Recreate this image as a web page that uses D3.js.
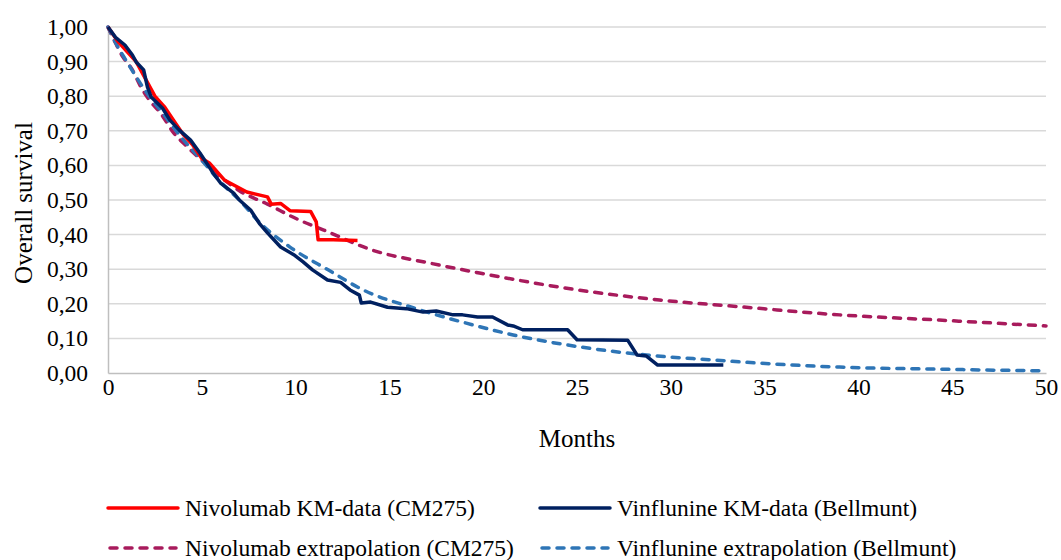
<!DOCTYPE html>
<html>
  <head>
    <meta charset="utf-8">
    <title>Overall survival</title>
    <script src="https://d3js.org/d3.v7.min.js"></script>
    <style>
      body { margin: 0; background: #fff; }
      svg text { fill: #000; }
    </style>
  </head>
  <body>
    <script>
      var width = 1061;
      var height = 560;
      var margin = {top: 27, right: 15, bottom: 187, left: 108};

      // Nivolumab KM-data (CM275)
      var nivoKmMonths = [0, 0.5, 1, 1.5, 2, 2.5, 3, 3.5, 4, 4.5, 5, 5.4, 6.2, 7.4, 8.1, 8.5, 8.7, 9.2, 9.7, 10.8, 11.1, 11.2, 12.0, 13.3];
      var nivoKmValues = [1, 0.96, 0.93, 0.9, 0.85, 0.8, 0.77, 0.73, 0.69, 0.66, 0.62, 0.607, 0.558, 0.523, 0.514, 0.509, 0.488, 0.49, 0.469, 0.467, 0.437, 0.385, 0.385, 0.383];

      // Vinflunine KM-data (Bellmunt)
      var vinfKmMonths = [0, 0.4, 0.9, 1.3, 1.5, 1.9, 2.1, 2.3, 2.9, 3.3, 3.8, 4.4, 4.9, 5.4, 5.6, 6.0, 6.7, 7.0, 7.6, 8.1, 8.5, 9.2, 9.9, 10.4, 10.9, 11.7, 12.4, 12.9, 13.4, 13.5, 14.0, 14.9, 15.9, 16.8, 17.5, 18.4, 18.9, 19.7, 20.5, 21.3, 21.6, 22.1, 24.5, 25.0, 27.7, 28.2, 28.7, 29.3, 32.8];
      var vinfKmValues = [1, 0.97, 0.948, 0.919, 0.899, 0.876, 0.827, 0.798, 0.766, 0.731, 0.702, 0.673, 0.636, 0.595, 0.578, 0.549, 0.52, 0.5, 0.471, 0.43, 0.405, 0.364, 0.342, 0.321, 0.298, 0.269, 0.262, 0.24, 0.225, 0.202, 0.205, 0.19, 0.186, 0.176, 0.179, 0.168, 0.168, 0.162, 0.162, 0.139, 0.136, 0.125, 0.125, 0.096, 0.095, 0.052, 0.049, 0.023, 0.023];

      // Nivolumab extrapolation (CM275)
      var nivoExMonths = [0, 0.4, 0.8, 1.3, 1.7, 2.2, 2.8, 3.5, 4.2, 5, 6, 7, 8.5, 10.2, 11.5, 14.1, 17.2, 19.8, 24.8, 29.4, 33.8, 39, 44.3, 50];
      var nivoExValues = [1, 0.954, 0.913, 0.876, 0.832, 0.789, 0.751, 0.694, 0.655, 0.615, 0.567, 0.527, 0.488, 0.442, 0.413, 0.355, 0.317, 0.289, 0.242, 0.211, 0.191, 0.168, 0.153, 0.136];

      // Vinflunine extrapolation (Bellmunt)
      var vinfExMonths = [0, 0.4, 1, 2, 3, 4, 5, 6, 7, 8.1, 9.7, 11.8, 13.6, 16.3, 19.1, 21.6, 25.2, 28.7, 32.2, 34.6, 39, 44.3, 50];
      var vinfExValues = [1, 0.955, 0.9, 0.815, 0.745, 0.675, 0.615, 0.552, 0.5, 0.434, 0.364, 0.296, 0.24, 0.188, 0.144, 0.11, 0.075, 0.052, 0.038, 0.029, 0.017, 0.011, 0.006];

      var xTicks = [0, 5, 10, 15, 20, 25, 30, 35, 40, 45, 50];
      var yTicks = [0, 0.1, 0.2, 0.3, 0.4, 0.5, 0.6, 0.7, 0.8, 0.9, 1.0];

      var series = [
        {name: "Nivolumab KM-data (CM275)", months: nivoKmMonths, values: nivoKmValues, color: "#ff0000", dash: null, curve: d3.curveLinear},
        {name: "Vinflunine KM-data (Bellmunt)", months: vinfKmMonths, values: vinfKmValues, color: "#002060", dash: null, curve: d3.curveLinear},
        {name: "Nivolumab extrapolation (CM275)", months: nivoExMonths, values: nivoExValues, color: "#a81b5c", dash: "7,8", curve: d3.curveMonotoneX},
        {name: "Vinflunine extrapolation (Bellmunt)", months: vinfExMonths, values: vinfExValues, color: "#2e75b6", dash: "7,8", curve: d3.curveMonotoneX}
      ];

      var serif = "'Liberation Serif', 'Times New Roman', Times, 'DejaVu Serif', serif";

      var innerW = width - margin.left - margin.right;
      var innerH = height - margin.top - margin.bottom;

      var x = d3.scaleLinear().domain([0, 50]).range([0, innerW]);
      var y = d3.scaleLinear().domain([0, 1]).range([innerH, 0]);

      var svg = d3.select("body").append("svg")
          .attr("width", width)
          .attr("height", height)
          .attr("font-family", serif);

      var g = svg.append("g")
          .attr("transform", "translate(" + margin.left + "," + margin.top + ")");

      // gridlines
      g.append("g")
        .selectAll("line")
        .data(yTicks.filter(function(d) { return d > 0; }))
        .enter().append("line")
          .attr("x1", 0)
          .attr("x2", innerW)
          .attr("y1", function(d) { return y(d); })
          .attr("y2", function(d) { return y(d); })
          .attr("stroke", "#d9d9d9")
          .attr("stroke-width", 1.5);

      var fmt = d3.format(".2f");

      var yAxis = g.append("g")
          .call(d3.axisLeft(y).tickValues(yTicks).tickSize(0).tickPadding(20)
            .tickFormat(function(d) { return fmt(d).replace(".", ","); }));
      yAxis.attr("font-family", serif).attr("font-size", 23.5);
      yAxis.select(".domain").attr("stroke", "#bfbfbf").attr("stroke-width", 1.5);

      var xAxis = g.append("g")
          .attr("transform", "translate(0," + innerH + ")")
          .call(d3.axisBottom(x).tickValues(xTicks).tickSize(0).tickPadding(5));
      xAxis.attr("font-family", serif).attr("font-size", 23.5);
      xAxis.select(".domain").attr("stroke", "#bfbfbf").attr("stroke-width", 1.5);

      // axis titles
      svg.append("text")
          .attr("x", margin.left + innerW / 2)
          .attr("y", 447)
          .attr("text-anchor", "middle")
          .attr("font-size", 25)
          .text("Months");

      svg.append("text")
          .attr("transform", "translate(32," + (margin.top + innerH / 2 + 3) + ") rotate(-90)")
          .attr("text-anchor", "middle")
          .attr("font-size", 25)
          .text("Overall survival");

      // lines, extrapolations drawn first
      var drawOrder = [2, 3, 0, 1];
      drawOrder.forEach(function(i) {
        var s = series[i];
        var pts = s.months.map(function(m, j) { return [m, s.values[j]]; });
        var line = d3.line()
            .x(function(d) { return x(d[0]); })
            .y(function(d) { return y(d[1]); })
            .curve(s.curve);
        g.append("path")
            .datum(pts)
            .attr("d", line)
            .attr("fill", "none")
            .attr("stroke", s.color)
            .attr("stroke-width", 3.5)
            .attr("stroke-linecap", s.dash ? "round" : "butt")
            .attr("stroke-linejoin", "round")
            .attr("stroke-dasharray", s.dash);
      });

      // legend
      var legendPos = [
        {x: 108, y: 508},
        {x: 540, y: 508},
        {x: 108, y: 548},
        {x: 540, y: 548}
      ];
      series.forEach(function(s, i) {
        var p = legendPos[i];
        var lg = svg.append("g").attr("transform", "translate(" + p.x + "," + p.y + ")");
        lg.append("line")
            .attr("x1", s.dash ? 2 : 0)
            .attr("x2", s.dash ? 68 : 70)
            .attr("y1", 0)
            .attr("y2", 0)
            .attr("stroke", s.color)
            .attr("stroke-width", 3.5)
            .attr("stroke-linecap", "round")
            .attr("stroke-dasharray", s.dash);
        lg.append("text")
            .attr("x", 77)
            .attr("y", 8)
            .attr("font-size", 23.5)
            .text(s.name);
      });
    </script>
  </body>
</html>
